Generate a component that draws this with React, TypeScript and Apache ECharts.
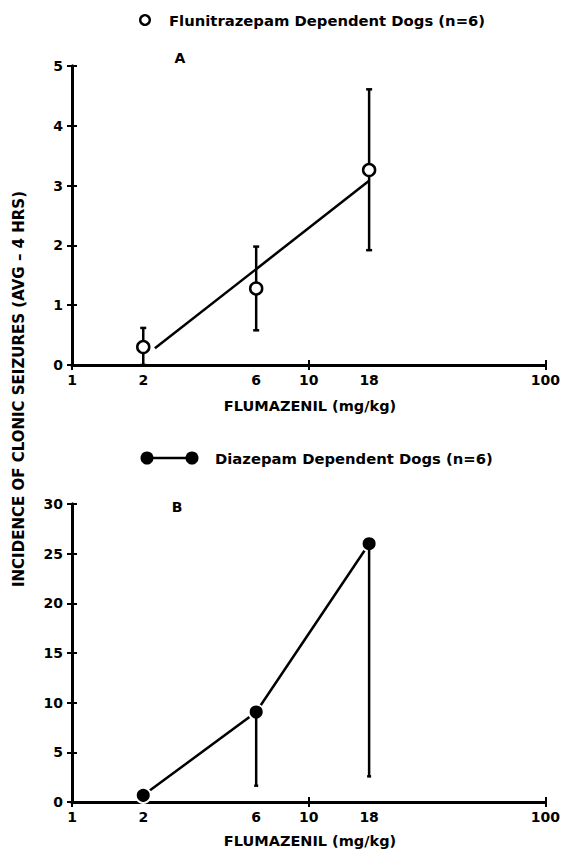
import React, { useEffect, useRef } from "react";
import * as echarts from "echarts";

const xTickLabels = [1, 2, 6, 10, 18, 100];
const xTickMarks = [1, 10, 100];
const doses = [2, 6, 18];

const fluMean = [0.3, 1.28, 3.26];
const fluLow = [0, 0.58, 1.92];
const fluHigh = [0.62, 1.98, 4.61];
const fluFitX = [2.24, 18];
const fluFitY = [0.28, 3.08];

const diaMean = [0.67, 9.06, 26.0];
const diaLow = [0.67, 1.64, 2.58];
const diaHigh = [0.67, 9.06, 26.0];

const FONT = "DejaVu Sans";

export default function App() {
  const ref = useRef<HTMLDivElement>(null);
  useEffect(() => {
    const chart = echarts.init(ref.current!, null, { renderer: "svg" });

    const mkX = (grid: number, overlay: boolean) => ({
      type: "log",
      logBase: 10,
      gridIndex: grid,
      min: 1,
      max: 100,
      position: "bottom",
      axisLine: { show: true, onZero: false, lineStyle: { color: "#000", width: 3 } },
      axisTick: {
        show: true,
        inside: overlay,
        length: 5,
        customValues: xTickMarks,
        lineStyle: { color: "#000", width: 2 },
      },
      axisLabel: overlay
        ? { show: false }
        : {
            show: true,
            customValues: xTickLabels,
            color: "#000",
            fontFamily: FONT,
            fontWeight: "bold",
            fontSize: 14,
            margin: 8,
            formatter: (v: number) => String(Math.round(v)),
          },
      splitLine: { show: false },
      minorTick: { show: false },
    });

    const mkY = (grid: number, max: number, interval: number, overlay: boolean) => ({
      type: "value",
      gridIndex: grid,
      min: 0,
      max,
      interval,
      position: "left",
      axisLine: { show: true, onZero: false, lineStyle: { color: "#000", width: 3 } },
      axisTick: { show: true, inside: overlay, length: 5, lineStyle: { color: "#000", width: 2 } },
      axisLabel: overlay
        ? { show: false }
        : { show: true, color: "#000", fontFamily: FONT, fontWeight: "bold", fontSize: 14, margin: 9 },
      splitLine: { show: false },
    });

    const errBar = (capTop: number, capBottom: number) => (params: any, api: any) => {
      const x = api.value(0);
      const lo = api.value(1);
      const hi = api.value(2);
      const pLo = api.coord([x, lo]);
      const pHi = api.coord([x, hi]);
      const style = { stroke: "#000", lineWidth: 2.5 };
      const children: any[] = [
        { type: "line", shape: { x1: pHi[0], y1: pHi[1], x2: pLo[0], y2: pLo[1] }, style },
      ];
      if (capTop > 0)
        children.push({
          type: "line",
          shape: { x1: pHi[0] - capTop, y1: pHi[1], x2: pHi[0] + capTop, y2: pHi[1] },
          style,
        });
      if (capBottom > 0)
        children.push({
          type: "line",
          shape: { x1: pLo[0] - capBottom, y1: pLo[1], x2: pLo[0] + capBottom, y2: pLo[1] },
          style,
        });
      return { type: "group", children };
    };

    const txt = (text: string, x: number, y: number, size: number, align = "left", extra: any = {}) => ({
      type: "text",
      x,
      y,
      ...extra,
      style: {
        text,
        font: `bold ${size}px "${FONT}"`,
        fill: "#000",
        textAlign: align,
        textVerticalAlign: "middle",
      },
    });

    const option: any = {
      animation: false,
      backgroundColor: "#fff",
      grid: [
        { left: 72, right: 17, top: 66, height: 299 },
        { left: 72, right: 17, top: 504, height: 298 },
      ],
      xAxis: [mkX(0, false), mkX(0, true), mkX(1, false), mkX(1, true)],
      yAxis: [mkY(0, 5, 1, false), mkY(0, 5, 1, true), mkY(1, 30, 5, false), mkY(1, 30, 5, true)],
      series: [
        {
          type: "custom",
          name: "fluErr",
          xAxisIndex: 0,
          yAxisIndex: 0,
          renderItem: errBar(3, 3),
          encode: { x: 0, y: [1, 2] },
          data: doses.map((d, i) => [d, fluLow[i], fluHigh[i]]),
          z: 2,
        },
        {
          type: "line",
          name: "fluFit",
          xAxisIndex: 0,
          yAxisIndex: 0,
          showSymbol: false,
          symbol: "none",
          lineStyle: { color: "#000", width: 2.5 },
          data: fluFitX.map((x, i) => [x, fluFitY[i]]),
          z: 2,
        },
        {
          type: "scatter",
          name: "Flunitrazepam Dependent Dogs (n=6)",
          xAxisIndex: 0,
          yAxisIndex: 0,
          symbol: "circle",
          symbolSize: 12,
          itemStyle: { color: "#fff", borderColor: "#000", borderWidth: 2.5, opacity: 1 },
          data: doses.map((d, i) => [d, fluMean[i]]),
          z: 4,
        },
        {
          type: "line",
          name: "diaLine",
          xAxisIndex: 2,
          yAxisIndex: 2,
          symbol: "none",
          lineStyle: { color: "#000", width: 2.5 },
          data: doses.map((d, i) => [d, diaMean[i]]),
          z: 2,
        },
        {
          type: "scatter",
          name: "Diazepam Dependent Dogs (n=6)",
          xAxisIndex: 2,
          yAxisIndex: 2,
          symbol: "circle",
          symbolSize: 15,
          itemStyle: { color: "#000", borderColor: "#fff", borderWidth: 2, opacity: 1 },
          data: doses.map((d, i) => [d, diaMean[i]]),
          z: 3,
        },
        {
          type: "custom",
          name: "diaErr",
          xAxisIndex: 2,
          yAxisIndex: 2,
          renderItem: errBar(0, 2),
          encode: { x: 0, y: [1, 2] },
          data: doses.map((d, i) => [d, diaLow[i], diaHigh[i]]).filter((r) => r[1] !== r[2]),
          z: 4,
        },
      ],
      graphic: [
        {
          type: "circle",
          shape: { cx: 145, cy: 20, r: 4.8 },
          style: { fill: "#fff", stroke: "#000", lineWidth: 2.4 },
        },
        txt("Flunitrazepam Dependent Dogs (n=6)", 169, 20, 14.8),
        txt("A", 180, 58, 14, "center"),
        txt("FLUMAZENIL (mg/kg)", 310, 406, 14.5, "center"),
        {
          type: "line",
          shape: { x1: 147, y1: 458, x2: 192, y2: 458 },
          style: { stroke: "#000", lineWidth: 2.5 },
        },
        { type: "circle", shape: { cx: 147, cy: 458, r: 6.5 }, style: { fill: "#000" } },
        { type: "circle", shape: { cx: 192, cy: 458, r: 6.5 }, style: { fill: "#000" } },
        txt("Diazepam Dependent Dogs (n=6)", 215, 458, 14.8),
        txt("B", 177, 507, 14, "center"),
        txt("FLUMAZENIL (mg/kg)", 310, 841, 14.5, "center"),
        txt("INCIDENCE OF CLONIC SEIZURES (AVG – 4 HRS)", 19, 389, 15, "center", {
          rotation: Math.PI / 2,
        }),
      ],
    };
    chart.setOption(option);
    return () => chart.dispose();
  }, []);
  return (
    <div
      ref={ref}
      style={{ position: "fixed", left: 0, top: 0, width: 563, height: 856, background: "#fff" }}
    />
  );
}
